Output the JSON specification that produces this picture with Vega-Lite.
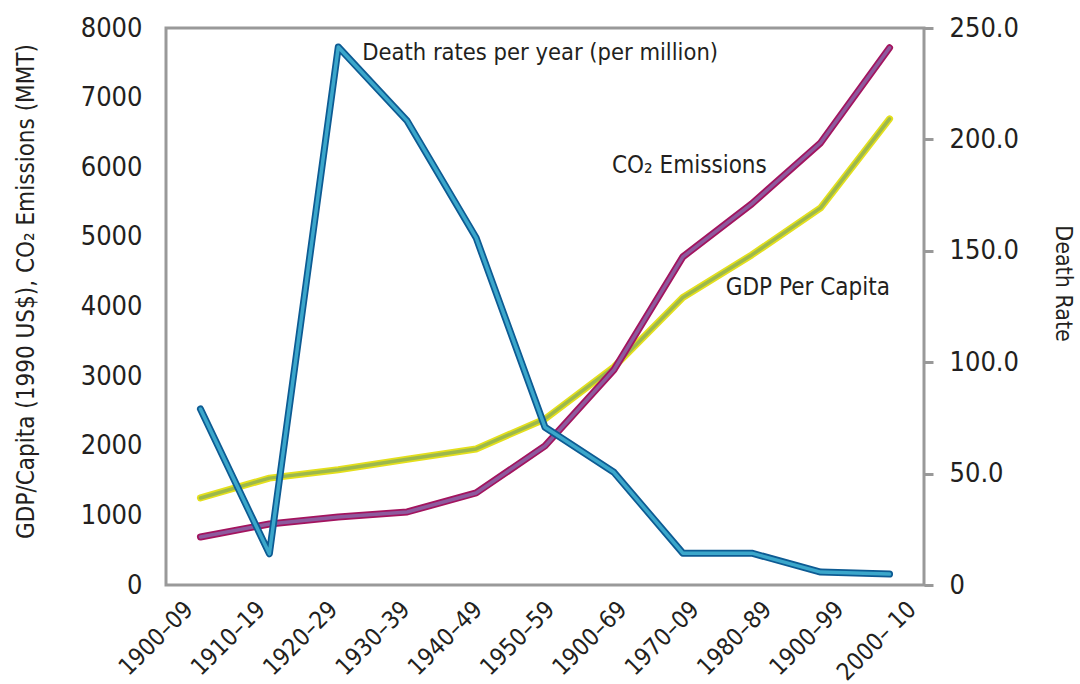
{
  "$schema": "https://vega.github.io/schema/vega-lite/v6.json",
  "width": 758,
  "height": 557,
  "autosize": {"type": "none"},
  "padding": {"left": 166, "top": 28, "right": 156, "bottom": 99},
  "background": "white",
  "config": {
    "font": "Liberation Sans Narrow, DejaVu Sans Condensed, Liberation Sans",
    "view": {"stroke": "#999999", "strokeWidth": 3},
    "axis": {
      "labelFont": "Liberation Sans Narrow, DejaVu Sans Condensed, Liberation Sans",
      "titleFont": "Liberation Sans Narrow, DejaVu Sans Condensed, Liberation Sans",
      "labelColor": "#231f20",
      "titleColor": "#231f20",
      "labelFontSize": 27,
      "titleFontSize": 24,
      "titleFontWeight": "normal",
      "grid": false,
      "domain": false
    }
  },
  "datasets": {
    "series": [
      {"period": "1900–09", "gdp": 1250, "co2": 690, "death": 79},
      {"period": "1910–19", "gdp": 1535, "co2": 876, "death": 14},
      {"period": "1920–29", "gdp": 1655, "co2": 977, "death": 241.5},
      {"period": "1930–39", "gdp": 1805, "co2": 1049, "death": 208.3},
      {"period": "1940–49", "gdp": 1954, "co2": 1322, "death": 155.9},
      {"period": "1950–59", "gdp": 2385, "co2": 1997, "death": 70.8},
      {"period": "1900–69", "gdp": 3130, "co2": 3089, "death": 50.6},
      {"period": "1970–09", "gdp": 4130, "co2": 4713, "death": 14.3},
      {"period": "1980–89", "gdp": 4741, "co2": 5474, "death": 14.3},
      {"period": "1900–99", "gdp": 5416, "co2": 6351, "death": 5.8},
      {"period": "2000– 10", "gdp": 6695, "co2": 7716, "death": 4.9}
    ]
  },
  "encoding": {
    "x": {
      "field": "period",
      "type": "ordinal",
      "scale": {
        "type": "point",
        "padding": 0.5,
        "domain": ["1900–09", "1910–19", "1920–29", "1930–39", "1940–49", "1950–59", "1900–69", "1970–09", "1980–89", "1900–99", "2000– 10"]
      },
      "axis": {
        "title": null,
        "labelAngle": -45,
        "labelFontSize": 24,
        "ticks": false,
        "labelPadding": 12,
        "labelOffset": {"expr": "-20 + datum.index * 34"}
      }
    }
  },
  "layer": [
    {
      "encoding": {
        "y": {
          "type": "quantitative",
          "scale": {"domain": [0, 8000], "nice": false},
          "axis": {
            "orient": "left",
            "title": "GDP/Capita (1990 US$), CO₂ Emissions (MMT)",
            "values": [0, 1000, 2000, 3000, 4000, 5000, 6000, 7000, 8000],
            "format": "d",
            "ticks": false,
            "labelPadding": 24,
            "titlePadding": 42,
            "titleY": 263
          }
        }
      },
      "layer": [
        {
          "data": {"name": "series"},
          "mark": {"type": "line", "color": "#e4df1c", "strokeWidth": 7, "strokeCap": "round", "strokeJoin": "round"},
          "encoding": {"y": {"field": "gdp"}}
        },
        {
          "data": {"name": "series"},
          "mark": {"type": "line", "color": "#9cb84c", "strokeWidth": 3.5, "strokeCap": "round", "strokeJoin": "round"},
          "encoding": {"y": {"field": "gdp"}}
        },
        {
          "data": {"name": "series"},
          "mark": {"type": "line", "color": "#a3145f", "strokeWidth": 7, "strokeCap": "round", "strokeJoin": "round"},
          "encoding": {"y": {"field": "co2"}}
        },
        {
          "data": {"name": "series"},
          "mark": {"type": "line", "color": "#8d5a9e", "strokeWidth": 3.5, "strokeCap": "round", "strokeJoin": "round"},
          "encoding": {"y": {"field": "co2"}}
        },
        {
          "data": {"values": [
            {"period": "1900–69", "value": 6020, "label": "CO₂ Emissions"}
          ]},
          "mark": {"type": "text", "align": "left", "baseline": "middle", "fontSize": 24, "color": "#231f20", "dx": -2,
                   "font": "Liberation Sans Narrow, DejaVu Sans Condensed, Liberation Sans"},
          "encoding": {
            "y": {"field": "value"},
            "text": {"field": "label"}
          }
        },
        {
          "data": {"values": [
            {"period": "1980–89", "value": 4270, "label": "GDP Per Capita"}
          ]},
          "mark": {"type": "text", "align": "left", "baseline": "middle", "fontSize": 24, "color": "#231f20", "dx": -26,
                   "font": "Liberation Sans Narrow, DejaVu Sans Condensed, Liberation Sans"},
          "encoding": {
            "y": {"field": "value"},
            "text": {"field": "label"}
          }
        }
      ]
    },
    {
      "encoding": {
        "y": {
          "type": "quantitative",
          "scale": {"domain": [0, 250], "nice": false},
          "axis": {
            "orient": "right",
            "title": "Death Rate",
            "titleAngle": 90,
            "titleFontSize": 23,
            "titleY": 255,
            "values": [0, 50, 100, 150, 200, 250],
            "labelExpr": "datum.value == 0 ? '0' : format(datum.value, '.1f')",
            "ticks": true,
            "tickSize": 9,
            "tickWidth": 3,
            "tickColor": "#999999",
            "labelPadding": 16,
            "titlePadding": 32
          }
        }
      },
      "layer": [
        {
          "data": {"name": "series"},
          "mark": {"type": "line", "color": "#0d5b93", "strokeWidth": 7, "strokeCap": "round", "strokeJoin": "round"},
          "encoding": {"y": {"field": "death"}}
        },
        {
          "data": {"name": "series"},
          "mark": {"type": "line", "color": "#3ba7cb", "strokeWidth": 3.5, "strokeCap": "round", "strokeJoin": "round"},
          "encoding": {"y": {"field": "death"}}
        },
        {
          "data": {"values": [
            {"period": "1920–29", "value": 241.5, "label": "Death rates per year (per million)"}
          ]},
          "mark": {"type": "text", "align": "left", "baseline": "middle", "fontSize": 23.5, "color": "#231f20", "dx": 24, "dy": 6,
                   "font": "Liberation Sans Narrow, DejaVu Sans Condensed, Liberation Sans"},
          "encoding": {
            "y": {"field": "value"},
            "text": {"field": "label"}
          }
        }
      ]
    }
  ],
  "resolve": {"scale": {"y": "independent"}}
}
